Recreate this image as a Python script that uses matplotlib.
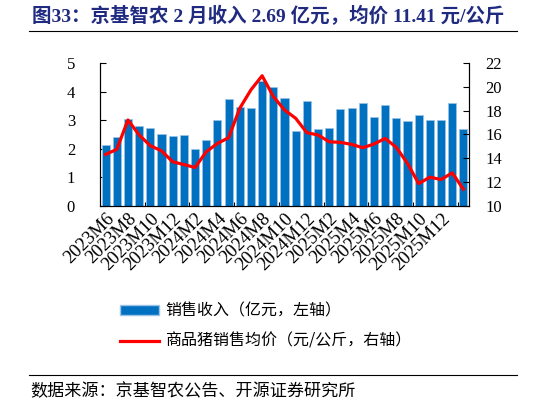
import numpy as np
import matplotlib
matplotlib.use('Agg')
import matplotlib.pyplot as plt
from matplotlib.lines import Line2D
from matplotlib.patches import Patch

# monthly data, 2023M6 .. 2026M2
months = ['2023M6', '2023M7', '2023M8', '2023M9', '2023M10', '2023M11', '2023M12',
          '2024M1', '2024M2', '2024M3', '2024M4', '2024M5', '2024M6', '2024M7',
          '2024M8', '2024M9', '2024M10', '2024M11', '2024M12', '2025M1', '2025M2',
          '2025M3', '2025M4', '2025M5', '2025M6', '2025M7', '2025M8', '2025M9',
          '2025M10', '2025M11', '2025M12', '2026M1', '2026M2']
revenue = [2.12, 2.41, 3.03, 2.80, 2.72, 2.52, 2.45, 2.48, 1.99, 2.30, 3.01,
           3.74, 3.47, 3.43, 4.36, 4.15, 3.76, 2.62, 3.68, 2.68, 2.73, 3.38,
           3.44, 3.61, 3.11, 3.52, 3.08, 2.96, 3.17, 3.02, 3.00, 3.59, 2.69]
price = [14.33, 14.75, 17.22, 15.96, 15.06, 14.63, 13.71, 13.48, 13.23, 14.55,
         15.25, 15.73, 18.20, 19.75, 20.93, 19.19, 18.06, 17.36, 16.15, 15.96,
         15.39, 15.34, 15.17, 14.89, 15.20, 15.67, 14.92, 13.57, 11.88, 12.42,
         12.22, 12.78, 11.41]

serif_cjk = ['Liberation Serif', 'Noto Sans CJK SC']
plt.rcParams['font.family'] = serif_cjk

W, H = 546, 405
fig = plt.figure(figsize=(W / 100, H / 100), dpi=100)

# plot area in pixels
x0, x1, y0, y1 = 100, 469, 206, 63
ax = fig.add_axes([x0 / W, 1 - y0 / H, (x1 - x0) / W, (y0 - y1) / H])
ax2 = ax.twinx()

x = np.arange(len(months))
ax.bar(x, revenue, width=0.72, color='#0070C0', edgecolor='#9CC3E6', linewidth=0.5, zorder=2)
ax2.plot(x, price, color='#FF0000', linewidth=2.3, zorder=3)

ax.set_xlim(-0.5, len(months) - 0.5)
ax.set_ylim(0, 5)
ax2.set_ylim(10, 22)
ax.set_yticks(np.arange(0, 6, 1))
ax2.set_yticks(np.arange(10, 23, 2))

ax.set_xticks(x[::2][:16])
ax.set_xticklabels(months[::2][:16], rotation=45, ha='right', va='top',
                   rotation_mode='anchor', fontsize=13.5)
ax.tick_params(axis='x', length=0, pad=3)
ax.set_xticks(np.arange(3.5, len(months), 4), minor=True)
ax.tick_params(axis='x', which='minor', direction='in', length=3, width=0.8)

ax.tick_params(axis='y', direction='in', length=4, labelsize=12, pad=18)
ax2.tick_params(axis='y', direction='in', length=4, labelsize=12, pad=12)

for a in (ax, ax2):
    a.spines['top'].set_visible(False)
    for s in ('left', 'right', 'bottom'):
        a.spines[s].set_linewidth(0.8)

# legend
handles = [Patch(facecolor='#0070C0', edgecolor='#9CC3E6'),
           Line2D([0], [0], color='#FF0000', linewidth=2.3)]
labels = ['销售收入（亿元，左轴）', '商品猪销售均价（元/公斤，右轴）']
fig.legend(handles, labels, loc='upper left', bbox_to_anchor=(106 / W, 1 - 288 / H),
           frameon=False, handlelength=2.4, handleheight=0.6, handletextpad=0.4,
           labelspacing=0.85, prop={'family': 'Noto Sans CJK SC', 'size': 11.5})

# title and footer
fig.text(32 / W, 1 - 16 / H, '图33：京基智农 2 月收入 2.69 亿元，均价 11.41 元/公斤',
         color='#1F2A80', fontsize=14, fontweight='bold', va='center', ha='left')
fig.add_artist(Line2D([29 / W, 517 / W], [1 - 31 / H, 1 - 31 / H], color='black', linewidth=0.8))
fig.add_artist(Line2D([29 / W, 517 / W], [1 - 375 / H, 1 - 375 / H], color='black', linewidth=0.8))
fig.text(30 / W, 1 - 391 / H, '数据来源：京基智农公告、开源证券研究所',
         fontsize=12.3, va='center', ha='left', family='Noto Sans CJK SC')

fig.savefig('out.png', dpi=100)
